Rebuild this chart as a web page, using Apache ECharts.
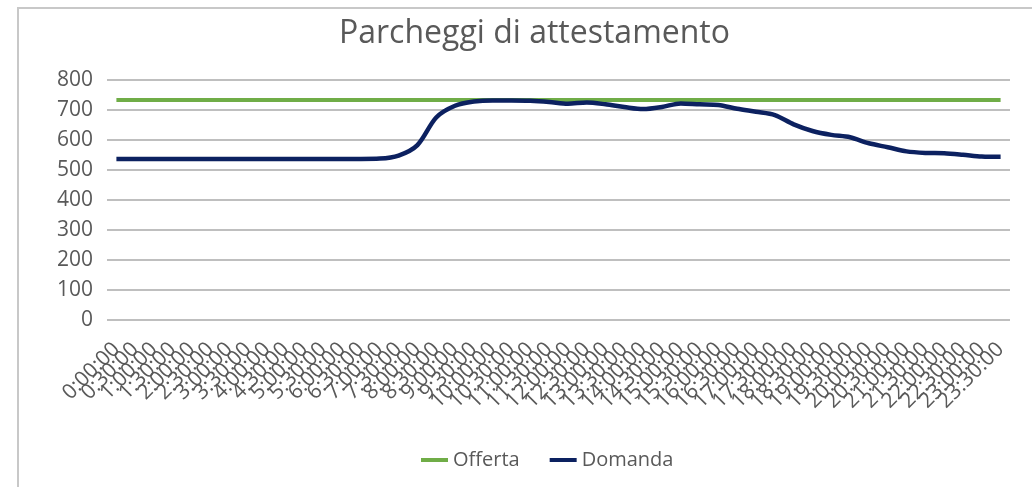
<!DOCTYPE html>
<html>
<head>
<meta charset="utf-8">
<script src="https://cdn.jsdelivr.net/npm/echarts@6/dist/echarts.min.js"></script>
<style>
  html, body { margin: 0; padding: 0; background: #fff; overflow: hidden; }
  #frame { position: absolute; left: 17px; top: 7px; width: 1100px; height: 600px;
           border-left: 2px solid #c8c8c8; border-top: 2px solid #c8c8c8; }
  #chart { position: absolute; left: 0; top: 0; width: 1032px; height: 487px; }
</style>
</head>
<body>
<div id="frame"></div>
<div id="chart"></div>
<script>
// fasce orarie ogni 30 minuti
const times = [
  '0:00:00', '0:30:00', '1:00:00', '1:30:00', '2:00:00', '2:30:00', '3:00:00', '3:30:00',
  '4:00:00', '4:30:00', '5:00:00', '5:30:00', '6:00:00', '6:30:00', '7:00:00', '7:30:00',
  '8:00:00', '8:30:00', '9:00:00', '9:30:00', '10:00:00', '10:30:00', '11:00:00', '11:30:00',
  '12:00:00', '12:30:00', '13:00:00', '13:30:00', '14:00:00', '14:30:00', '15:00:00', '15:30:00',
  '16:00:00', '16:30:00', '17:00:00', '17:30:00', '18:00:00', '18:30:00', '19:00:00', '19:30:00',
  '20:00:00', '20:30:00', '21:00:00', '21:30:00', '22:00:00', '22:30:00', '23:00:00', '23:30:00'
]

const offerta = times.map(() => 733)

const domanda = [
  537, 537, 537, 537, 537, 537, 537, 537,
  537, 537, 537, 537, 537, 537, 538, 548,
  583, 675, 714, 728, 732, 732, 731, 727,
  721, 725, 719, 710, 703, 710, 722, 719,
  717, 704, 694, 683, 652, 630, 617, 609,
  589, 576, 562, 557, 556, 551, 545, 544
]

const yTicks = { min: 0, max: 800, interval: 100 }

const font = '"Open Sans", Lato, sans-serif'
const grey = '#595959'

const chart = echarts.init(document.getElementById('chart'))

chart.setOption({
  backgroundColor: 'transparent',
  animation: false,
  title: {
    text: 'Parcheggi di attestamento',
    left: 334,
    top: 13,
    textStyle: { fontFamily: font, fontSize: 32, fontWeight: 'normal', color: grey },
  },
  legend: {
    bottom: 12,
    left: 416,
    itemWidth: 27,
    itemHeight: 4,
    itemGap: 30,
    icon: 'rect',
    textStyle: { fontFamily: font, fontSize: 20, color: grey },
    data: ['Offerta', 'Domanda'],
  },
  grid: { left: 107, right: 22, top: 80, bottom: 167 },
  xAxis: {
    type: 'category',
    data: times,
    boundaryGap: true,
    axisLine: { show: false },
    axisTick: { show: false },
    axisLabel: {
      interval: 0,
      rotate: 45,
      margin: 26,
      fontFamily: font,
      fontSize: 21,
      color: grey,
    },
  },
  yAxis: {
    type: 'value',
    min: yTicks.min,
    max: yTicks.max,
    interval: yTicks.interval,
    axisLine: { show: false },
    axisTick: { show: false },
    axisLabel: { fontFamily: font, fontSize: 21, color: grey, margin: 14 },
    splitLine: { lineStyle: { color: '#bfbfbf', width: 2 } },
  },
  series: [
    {
      name: 'Offerta',
      type: 'line',
      data: offerta,
      symbol: 'none',
      itemStyle: { color: '#70ad47' },
      lineStyle: { color: '#70ad47', width: 4 },
    },
    {
      name: 'Domanda',
      type: 'line',
      data: domanda,
      symbol: 'none',
      smooth: 0.3,
      itemStyle: { color: '#0c2160' },
      lineStyle: { color: '#0c2160', width: 4.5 },
    },
  ],
})
</script>
</body>
</html>
